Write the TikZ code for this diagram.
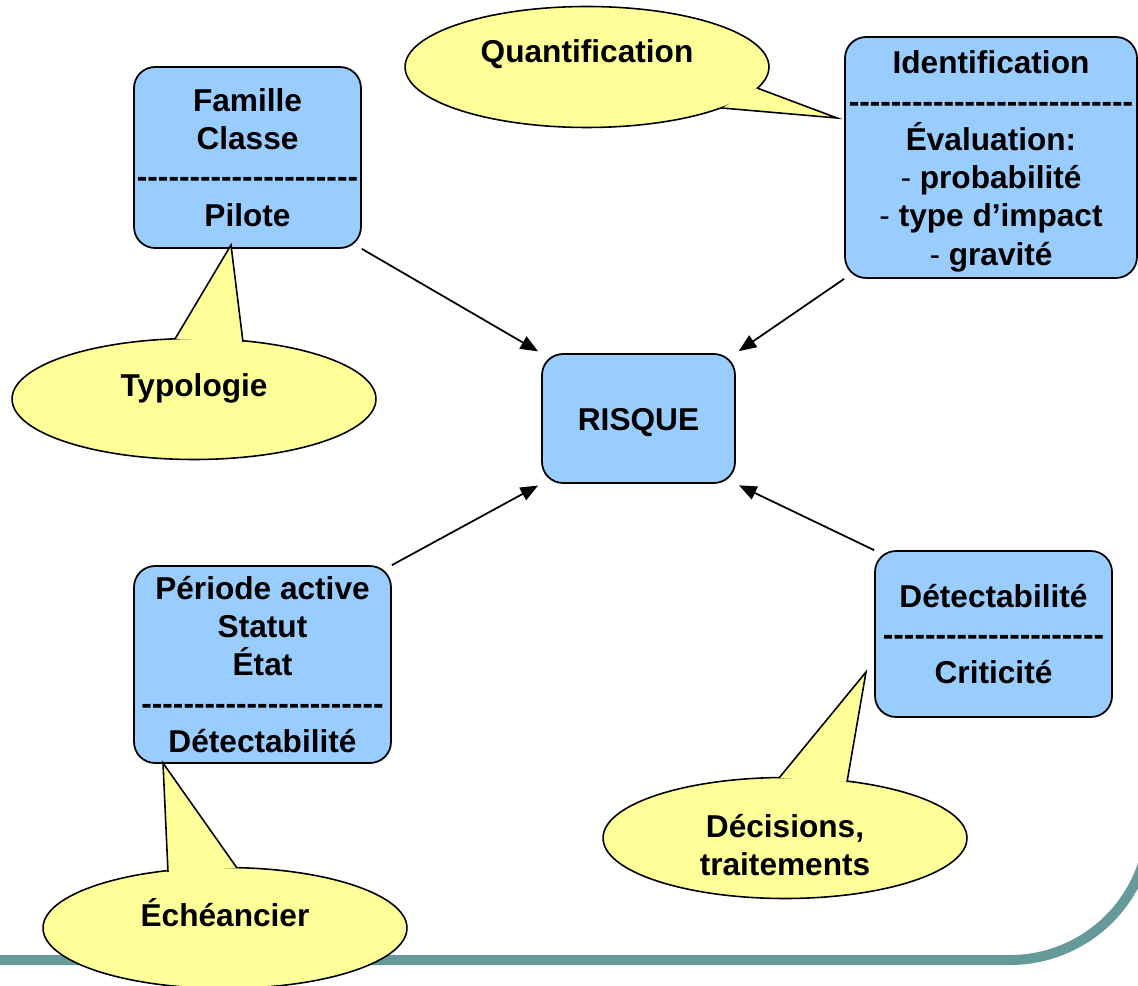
\documentclass[tikz,border=0pt]{standalone}
\usepackage{fontspec}
\setmainfont{Liberation Sans}[Ligatures=TeXOff]
\usetikzlibrary{arrows.meta,shapes.geometric}
\definecolor{bleu}{HTML}{99CCFF}
\definecolor{jaune}{HTML}{FFFF99}
\definecolor{sarcelle}{HTML}{669999}
\tikzset{
    boite/.style={draw=black,line width=1pt,fill=bleu,rounded corners=0.42cm,align=center,inner sep=0pt,font=\bfseries\fontsize{18}{21.8}\selectfont},
    bulle/.style={draw=black,line width=0.9pt,fill=jaune,ellipse,inner sep=0pt,minimum width=7.28cm,minimum height=2.42cm},
    texte/.style={align=center,inner sep=0pt,font=\bfseries\fontsize{18}{21.8}\selectfont},
    fleche/.style={-{Triangle[length=10pt,width=8pt]},line width=1pt,shorten >=2pt}
}
\begin{document}
\begin{tikzpicture}[x=0.02cm,y=-0.02cm]
            \useasboundingbox (0,0) rectangle (1138,986);
            \draw[sarcelle,line width=0.2cm] (-10,960)--(1010,960) arc (90:-5:140);
            \node[boite,minimum width=4.54cm,minimum height=3.62cm] (famille) at (247.5,157.5) {Famille\\Classe\\---------------------\\Pilote};
            \node[boite,minimum width=5.84cm,minimum height=4.82cm] (ident) at (991,157.5) {\rule{0pt}{17.5pt}Identification\\---------------------------\\Évaluation:\\{\mdseries -} probabilité\\{\mdseries -} type d’impact\\{\mdseries -} gravité};
            \node[boite,minimum width=3.86cm,minimum height=2.58cm] (risque) at (638.5,418.5) {\rule{0pt}{17.5pt}RISQUE};
            \node[boite,minimum width=5.14cm,minimum height=3.94cm] (periode) at (262.5,664.5) {Période active\\Statut\\État\\-----------------------\\Détectabilité};
            \node[boite,minimum width=4.74cm,minimum height=3.32cm] (detect) at (993.5,634) {Détectabilité\\---------------------\\Criticité};
            \draw[fleche] (famille.south east)--(risque.north west);
            \draw[fleche] (ident.south west)--(risque.north east);
            \draw[fleche] (periode.north east)--(risque.south west);
            \draw[fleche] (detect.north west)--(risque.south east);
            % bulles
            \node[bulle] (quant) at (587,67) {};
            \coordinate (quant-pointe) at (837,118);
            \fill[jaune] (722,108)--(quant-pointe)--(757,88)--cycle;
            \draw[line width=0.9pt] (722,108)--(quant-pointe)--(757,88);
            \node[texte] (quant-texte) at (587,54) {Quantification};
            \node[bulle] (typo) at (194,399) {};
            \coordinate (typo-pointe) at (231,245);
            \fill[jaune] (175,339)--(typo-pointe)--(243,342)--cycle;
            \draw[line width=0.9pt] (175,339)--(typo-pointe)--(243,342);
            \node[texte] (typo-texte) at (194,388) {Typologie};
            \node[bulle] (echeance) at (225,928) {};
            \coordinate (echeance-pointe) at (163,763);
            \fill[jaune] (168,872)--(echeance-pointe)--(237,868)--cycle;
            \draw[line width=0.9pt] (168,872)--(echeance-pointe)--(237,868);
            \node[texte] (echeance-texte) at (225,913) {Échéancier};
            \node[bulle] (decision) at (785,838) {};
            \coordinate (decision-pointe) at (866,672);
            \fill[jaune] (779,778)--(decision-pointe)--(847,782)--cycle;
            \draw[line width=0.9pt] (779,778)--(decision-pointe)--(847,782);
            \node[texte] (decision-texte) at (785,845) {Décisions,\\traitements};
        \end{tikzpicture}
\end{document}
